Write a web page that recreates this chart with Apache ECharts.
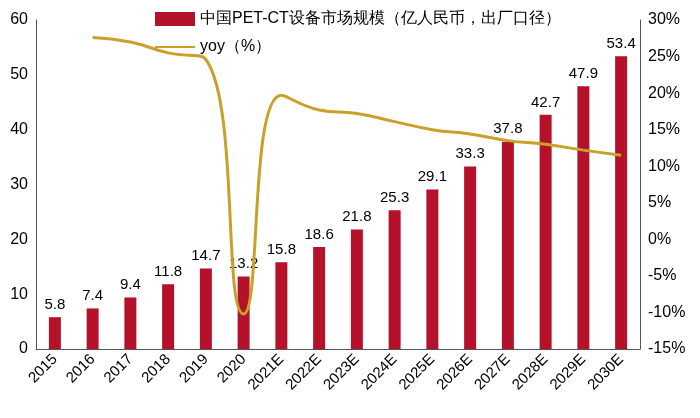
<!DOCTYPE html>
<html><head><meta charset="utf-8">
<script src="https://cdn.jsdelivr.net/npm/echarts@6/dist/echarts.min.js"></script>
<style>html,body{margin:0;padding:0;background:#fff}#c{width:700px;height:418px}</style>
</head><body><div id="c"></div>
<script>
const categories=['2015','2016','2017','2018','2019','2020','2021E','2022E','2023E','2024E','2025E','2026E','2027E','2028E','2029E','2030E'];
const marketSize=[5.8,7.4,9.4,11.8,14.7,13.2,15.8,18.6,21.8,25.3,29.1,33.3,37.8,42.7,47.9,53.4];
const yoy=[null,27.6,27.0,25.5,24.6,-10.2,19.7,17.7,17.2,16.1,15.0,14.4,13.5,13.0,12.2,11.5];
const leftTicks=[0,60,10];
const rightTicks=[-15,30,5];
const chart=echarts.init(document.getElementById('c'));
const font='Liberation Sans';
chart.setOption({
  textStyle:{fontFamily:font},
  legend:{orient:'vertical',left:150,top:6,itemGap:12,itemWidth:40,itemHeight:14,
    textStyle:{fontSize:16,color:'#000',fontFamily:font},
    data:[{name:'中国PET-CT设备市场规模（亿人民币，出厂口径）',icon:'rect'},{name:'yoy（%）',icon:'path://M0,6 L40,6 L40,8 L0,8 Z'}]},
  grid:{left:36,right:60,top:20,bottom:69},
  xAxis:{type:'category',data:categories,
    axisLine:{lineStyle:{color:'#555'}},axisTick:{show:false},
    axisLabel:{rotate:45,fontSize:15,color:'#000',margin:8}},
  yAxis:[
    {type:'value',min:leftTicks[0],max:leftTicks[1],interval:leftTicks[2],splitLine:{show:false},
     axisLine:{show:true,lineStyle:{color:'#555'}},axisLabel:{fontSize:16,color:'#000'}},
    {type:'value',min:rightTicks[0],max:rightTicks[1],interval:rightTicks[2],splitLine:{show:false},
     axisLine:{show:true,lineStyle:{color:'#555'}},axisLabel:{fontSize:16,color:'#000',formatter:'{value}%'}}
  ],
  series:[
    {name:'中国PET-CT设备市场规模（亿人民币，出厂口径）',type:'bar',data:marketSize,barWidth:12,
     itemStyle:{color:'#B5112A'},label:{show:true,position:'top',fontSize:15,color:'#000'}},
    {name:'yoy（%）',type:'line',yAxisIndex:1,data:yoy,smooth:true,symbol:'none',
     lineStyle:{color:'#C9A02A',width:3},itemStyle:{color:'#C9A02A'}}
  ]
});
</script></body></html>
